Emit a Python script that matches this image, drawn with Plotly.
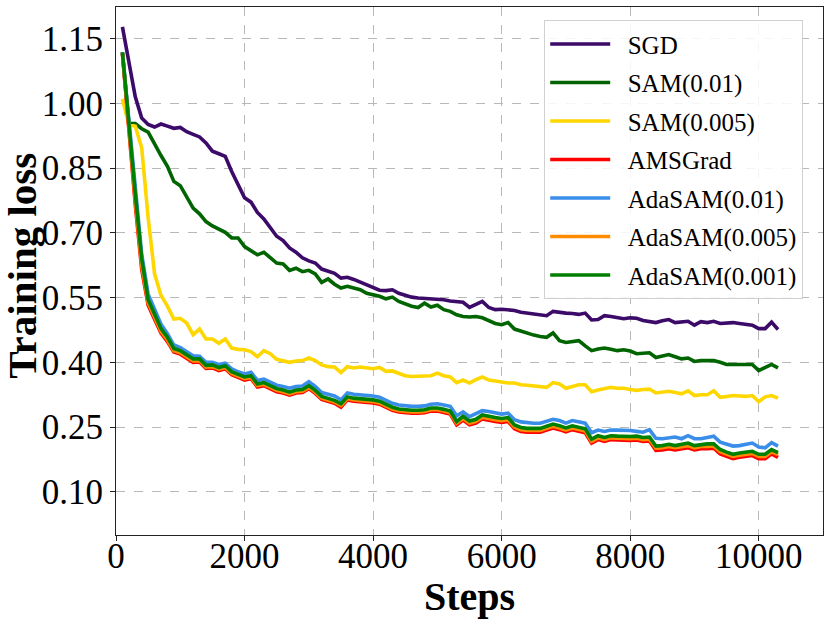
import plotly.graph_objects as go

# training steps (logged every 100 steps)
steps = list(range(100, 10301, 100))

sgd = [1.177, 1.095, 1.015, 0.966, 0.951, 0.945, 0.952, 0.947, 0.942, 0.944,
       0.934, 0.928, 0.922, 0.908, 0.889, 0.883, 0.877, 0.842, 0.811, 0.781,
       0.771, 0.747, 0.732, 0.711, 0.692, 0.682, 0.665, 0.655, 0.642, 0.635,
       0.630, 0.616, 0.611, 0.606, 0.595, 0.597, 0.592, 0.586, 0.579, 0.573,
       0.567, 0.566, 0.568, 0.560, 0.555, 0.551, 0.549, 0.548, 0.548, 0.548,
       0.545, 0.542, 0.540, 0.539, 0.527, 0.533, 0.541, 0.527, 0.522, 0.523,
       0.522, 0.520, 0.516, 0.514, 0.512, 0.510, 0.508, 0.518, 0.515, 0.514,
       0.513, 0.511, 0.514, 0.498, 0.499, 0.508, 0.506, 0.503, 0.501, 0.503,
       0.502, 0.497, 0.495, 0.492, 0.496, 0.499, 0.492, 0.494, 0.495, 0.486,
       0.494, 0.492, 0.495, 0.490, 0.491, 0.492, 0.490, 0.488, 0.486, 0.478,
       0.478, 0.493, 0.476]

sam_01 = [1.118, 0.953, 0.953, 0.941, 0.933, 0.904, 0.879, 0.854, 0.819, 0.809,
          0.784, 0.757, 0.744, 0.726, 0.716, 0.709, 0.701, 0.688, 0.688, 0.668,
          0.658, 0.649, 0.655, 0.642, 0.630, 0.628, 0.613, 0.618, 0.610, 0.613,
          0.605, 0.585, 0.593, 0.581, 0.572, 0.576, 0.572, 0.568, 0.560, 0.557,
          0.553, 0.547, 0.551, 0.541, 0.535, 0.530, 0.527, 0.537, 0.528, 0.532,
          0.522, 0.518, 0.510, 0.506, 0.505, 0.506, 0.503, 0.496, 0.490, 0.487,
          0.492, 0.477, 0.472, 0.466, 0.463, 0.460, 0.458, 0.468, 0.450, 0.446,
          0.447, 0.450, 0.438, 0.427, 0.431, 0.433, 0.430, 0.427, 0.429, 0.426,
          0.420, 0.421, 0.422, 0.411, 0.414, 0.418, 0.413, 0.408, 0.410, 0.402,
          0.404, 0.405, 0.404, 0.400, 0.395, 0.395, 0.395, 0.393, 0.395, 0.381,
          0.389, 0.395, 0.387]

sam_005 = [1.010, 0.951, 0.947, 0.897, 0.735, 0.605, 0.555, 0.530, 0.500, 0.502,
           0.491, 0.464, 0.477, 0.454, 0.454, 0.444, 0.454, 0.433, 0.430, 0.429,
           0.425, 0.413, 0.427, 0.420, 0.407, 0.403, 0.400, 0.403, 0.404, 0.410,
           0.404, 0.394, 0.390, 0.389, 0.376, 0.390, 0.387, 0.389, 0.387, 0.385,
           0.388, 0.379, 0.380, 0.375, 0.369, 0.367, 0.367, 0.368, 0.369, 0.375,
           0.369, 0.366, 0.353, 0.359, 0.352, 0.360, 0.366, 0.359, 0.356, 0.353,
           0.352, 0.352, 0.348, 0.347, 0.346, 0.344, 0.342, 0.353, 0.350, 0.340,
           0.345, 0.348, 0.348, 0.332, 0.336, 0.338, 0.342, 0.340, 0.340, 0.337,
           0.335, 0.337, 0.338, 0.329, 0.331, 0.333, 0.330, 0.327, 0.334, 0.323,
           0.325, 0.325, 0.334, 0.319, 0.321, 0.323, 0.322, 0.321, 0.323, 0.309,
           0.320, 0.323, 0.317]

amsgrad = [1.115, 0.935, 0.765, 0.615, 0.532, 0.500, 0.468, 0.448, 0.424, 0.419,
           0.409, 0.400, 0.401, 0.386, 0.387, 0.381, 0.385, 0.371, 0.365, 0.359,
           0.362, 0.343, 0.346, 0.338, 0.332, 0.329, 0.324, 0.329, 0.330, 0.339,
           0.328, 0.314, 0.310, 0.305, 0.296, 0.313, 0.310, 0.309, 0.308, 0.306,
           0.303, 0.295, 0.289, 0.285, 0.283, 0.282, 0.282, 0.283, 0.287, 0.287,
           0.284, 0.280, 0.255, 0.266, 0.255, 0.259, 0.269, 0.265, 0.263, 0.261,
           0.263, 0.246, 0.240, 0.238, 0.237, 0.238, 0.243, 0.248, 0.244, 0.239,
           0.244, 0.241, 0.237, 0.213, 0.221, 0.217, 0.221, 0.220, 0.219, 0.219,
           0.220, 0.217, 0.218, 0.196, 0.197, 0.200, 0.197, 0.200, 0.202, 0.197,
           0.200, 0.200, 0.201, 0.188, 0.182, 0.177, 0.180, 0.181, 0.184, 0.177,
           0.177, 0.188, 0.180]

adasam_01 = [1.118, 0.955, 0.800, 0.650, 0.558, 0.522, 0.488, 0.466, 0.440, 0.434,
             0.424, 0.415, 0.414, 0.400, 0.400, 0.395, 0.398, 0.385, 0.378, 0.373,
             0.377, 0.358, 0.361, 0.354, 0.347, 0.344, 0.340, 0.344, 0.345, 0.355,
             0.344, 0.330, 0.327, 0.322, 0.313, 0.329, 0.326, 0.325, 0.324, 0.322,
             0.319, 0.311, 0.305, 0.301, 0.299, 0.298, 0.298, 0.299, 0.303, 0.304,
             0.301, 0.298, 0.276, 0.285, 0.274, 0.280, 0.288, 0.286, 0.283, 0.280,
             0.282, 0.267, 0.262, 0.260, 0.259, 0.259, 0.264, 0.268, 0.265, 0.259,
             0.265, 0.261, 0.259, 0.237, 0.243, 0.240, 0.243, 0.243, 0.243, 0.242,
             0.240, 0.238, 0.244, 0.224, 0.223, 0.225, 0.227, 0.223, 0.230, 0.223,
             0.223, 0.226, 0.229, 0.215, 0.210, 0.206, 0.207, 0.210, 0.213, 0.204,
             0.202, 0.214, 0.206]

adasam_005 = [1.116, 0.940, 0.775, 0.625, 0.538, 0.505, 0.472, 0.452, 0.427, 0.422,
              0.412, 0.403, 0.404, 0.389, 0.390, 0.384, 0.388, 0.374, 0.368, 0.362,
              0.365, 0.346, 0.349, 0.341, 0.335, 0.332, 0.327, 0.332, 0.333, 0.342,
              0.331, 0.317, 0.313, 0.308, 0.300, 0.316, 0.313, 0.312, 0.311, 0.309,
              0.306, 0.298, 0.292, 0.288, 0.286, 0.285, 0.285, 0.286, 0.290, 0.290,
              0.287, 0.283, 0.259, 0.270, 0.259, 0.263, 0.273, 0.269, 0.267, 0.265,
              0.267, 0.250, 0.244, 0.242, 0.241, 0.242, 0.247, 0.252, 0.248, 0.243,
              0.248, 0.245, 0.241, 0.217, 0.225, 0.221, 0.225, 0.224, 0.223, 0.223,
              0.224, 0.221, 0.222, 0.201, 0.202, 0.205, 0.202, 0.205, 0.207, 0.202,
              0.205, 0.205, 0.206, 0.193, 0.187, 0.182, 0.185, 0.186, 0.189, 0.182,
              0.182, 0.193, 0.186]

adasam_001 = [1.118, 0.950, 0.790, 0.640, 0.545, 0.512, 0.478, 0.458, 0.432, 0.427,
              0.417, 0.408, 0.408, 0.393, 0.394, 0.388, 0.392, 0.378, 0.372, 0.366,
              0.369, 0.350, 0.353, 0.345, 0.339, 0.336, 0.331, 0.336, 0.337, 0.346,
              0.335, 0.321, 0.317, 0.312, 0.304, 0.320, 0.317, 0.316, 0.315, 0.313,
              0.310, 0.302, 0.296, 0.292, 0.290, 0.289, 0.289, 0.290, 0.294, 0.294,
              0.291, 0.287, 0.263, 0.275, 0.264, 0.268, 0.278, 0.274, 0.272, 0.270,
              0.272, 0.255, 0.249, 0.247, 0.246, 0.247, 0.252, 0.257, 0.253, 0.248,
              0.253, 0.250, 0.246, 0.222, 0.230, 0.226, 0.230, 0.229, 0.228, 0.228,
              0.229, 0.226, 0.227, 0.206, 0.207, 0.210, 0.207, 0.210, 0.213, 0.207,
              0.210, 0.211, 0.211, 0.198, 0.192, 0.187, 0.190, 0.191, 0.194, 0.187,
              0.187, 0.198, 0.191]

names = ["SGD", "SAM(0.01)", "SAM(0.005)", "AMSGrad",
         "AdaSAM(0.01)", "AdaSAM(0.005)", "AdaSAM(0.001)"]
series = [sgd, sam_01, sam_005, amsgrad, adasam_01, adasam_005, adasam_001]
colors = ["#3c0a68", "#006400", "#ffd700", "#ff0000",
          "#3a8eea", "#ff8c00", "#008000"]

x_ticks = [0, 2000, 4000, 6000, 8000, 10000]
y_ticks = [0.10, 0.25, 0.40, 0.55, 0.70, 0.85, 1.00, 1.15]

serif = "Liberation Serif"
gap = "\u00a0\u00a0"  # a bit of room between legend line and label

fig = go.Figure()
for name, vals, col in zip(names, series, colors):
    fig.add_trace(go.Scatter(x=steps, y=vals, mode="lines", name=gap + name,
                             legendgroup=name,
                             line=dict(color=col, width=3.6)))

axis_common = dict(
    showline=True, linecolor="#222222", linewidth=1.2, mirror=True,
    showgrid=True, gridcolor="#b8b8b8", griddash="dash", gridwidth=0.8,
    ticks="outside", ticklen=5, tickcolor="#222222",
    tickfont=dict(family=serif, size=35, color="black"),
    zeroline=False, automargin=False,
)

fig.update_xaxes(range=[0, 11000], tickvals=x_ticks,
                 ticktext=[str(t) for t in x_ticks], ticklabelstandoff=-15,
                 **axis_common)
fig.update_yaxes(range=[0, 1.223], tickvals=y_ticks,
                 ticktext=["%.2f" % t for t in y_ticks], **axis_common)

# axis titles placed as annotations so they sit where the original has them
fig.add_annotation(text="<b>Steps</b>", xref="paper", yref="paper",
                   x=0.5, y=-0.117, xanchor="center", yanchor="middle",
                   showarrow=False,
                   font=dict(family=serif, size=40, color="black"))
fig.add_annotation(text="<b>Training loss</b>", xref="paper", yref="paper",
                   x=-0.133, y=0.51, xanchor="center", yanchor="middle",
                   textangle=-90, showarrow=False,
                   font=dict(family=serif, size=41, color="black"))

fig.update_layout(
    width=830, height=621,
    margin=dict(l=116, r=7, t=7, b=86),
    plot_bgcolor="white", paper_bgcolor="white",
    showlegend=True,
    legend=dict(x=0.972, y=0.975, xanchor="right", yanchor="top",
                bgcolor="rgba(255,255,255,0.85)", bordercolor="#d0d0d0",
                borderwidth=1, tracegroupgap=3, itemwidth=60,
                font=dict(family=serif, size=25, color="black")),
)

# drop the browser's default page margin so the figure sits at the corner
fig.write_html("out.html", config={"displayModeBar": False},
               post_script="document.body.style.margin='0';")
